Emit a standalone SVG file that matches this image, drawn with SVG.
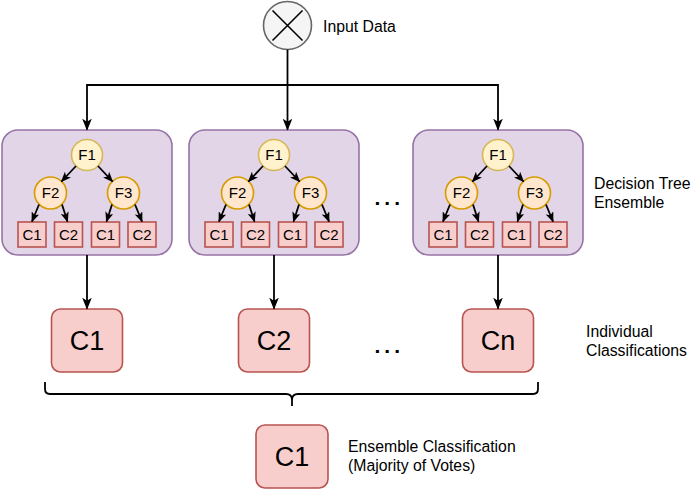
<svg xmlns="http://www.w3.org/2000/svg" width="692" height="491" viewBox="0 0 692 491">
<style>
text{font-family:"Liberation Sans",Arial,Helvetica,sans-serif;fill:#000}
.lbl{font-size:15.8px}
.ens{fill:#e1d5e7;stroke:#9673a6;stroke-width:1.6}
.f1{fill:#fff2cc;stroke:#d6b656;stroke-width:1.6}
.f23{fill:#ffe6cc;stroke:#d79b00;stroke-width:1.6}
.leaf{fill:#f8cecc;stroke:#b85450;stroke-width:1.6}
.cls{fill:#f8cecc;stroke:#b85450;stroke-width:1.6}
.sm{font-size:15px;text-anchor:middle}
.big{font-size:27px;text-anchor:middle}
.dots{font-size:21px;font-weight:bold;letter-spacing:4px}
.ln{fill:none;stroke:#000;stroke-width:1.8}
.ar{fill:none;stroke:#000;stroke-width:1.8;marker-end:url(#arr)}
.art{fill:none;stroke:#000;stroke-width:1.8;marker-end:url(#arrs)}
</style>
<defs>
<marker id="arr" viewBox="0 0 10 8" markerWidth="12" markerHeight="9.6" refX="9" refY="4" orient="auto" markerUnits="userSpaceOnUse">
<path d="M0,0 L10,4 L0,8 L2.5,4 Z" fill="#000"/>
</marker>
<marker id="arrs" viewBox="0 0 10 8" markerWidth="10.5" markerHeight="8.4" refX="9" refY="4" orient="auto" markerUnits="userSpaceOnUse">
<path d="M0,0 L10,4 L0,8 L2.5,4 Z" fill="#000"/>
</marker>
<g id="tree">
<circle class="f1" cx="0" cy="155" r="15.5"/>
<text class="sm" x="0" y="160.3">F1</text>
<circle class="f23" cx="-36.5" cy="193" r="16"/>
<text class="sm" x="-36.5" y="198.3">F2</text>
<circle class="f23" cx="36.5" cy="193" r="16"/>
<text class="sm" x="36.5" y="198.3">F3</text>
<rect class="leaf" x="-69" y="222" width="28" height="25"/>
<text class="sm" x="-55" y="240">C1</text>
<rect class="leaf" x="-32.5" y="222" width="28" height="25"/>
<text class="sm" x="-18.5" y="240">C2</text>
<rect class="leaf" x="4.5" y="222" width="28" height="25"/>
<text class="sm" x="18.5" y="240">C1</text>
<rect class="leaf" x="41" y="222" width="28" height="25"/>
<text class="sm" x="55" y="240">C2</text>
<path class="art" d="M-11,166 L-25.5,181.5"/>
<path class="art" d="M11,166 L25.5,181.5"/>
<path class="art" d="M-48,204.5 L-55,221.5"/>
<path class="art" d="M-25,204.5 L-19.5,221.5"/>
<path class="art" d="M25,204.5 L19.5,221.5"/>
<path class="art" d="M48,204.5 L55,221.5"/>
</g>
</defs>

<g id="input">
<circle cx="287.5" cy="25.5" r="24" fill="#f5f5f5" stroke="#666666" stroke-width="1.6"/>
<path d="M272.5,10.5 L302.5,40.5 M302.5,10.5 L272.5,40.5" stroke="#000" stroke-width="1.6"/>
<text class="lbl" x="323" y="32">Input Data</text>
</g>

<g id="tree1">
<rect class="ens" x="2" y="130" width="170" height="125" rx="16"/>
<use href="#tree" x="87"/>
</g>
<g id="tree2">
<rect class="ens" x="189" y="130" width="170" height="125" rx="16"/>
<use href="#tree" x="274"/>
</g>
<g id="tree3">
<rect class="ens" x="413" y="130" width="170" height="125" rx="16"/>
<use href="#tree" x="498"/>
</g>

<g id="label-ensemble">
<text class="lbl" x="594" y="189">Decision Tree</text>
<text class="lbl" x="594" y="208">Ensemble</text>
</g>

<g id="dots1"><text class="dots" x="374.5" y="205">...</text></g>
<g id="dots2"><text class="dots" x="374.5" y="353">...</text></g>

<g id="class1">
<rect class="cls" x="51.5" y="309" width="71" height="63" rx="9"/>
<text class="big" x="87" y="350">C1</text>
</g>
<g id="class2">
<rect class="cls" x="238.5" y="309" width="71" height="63" rx="9"/>
<text class="big" x="274" y="350">C2</text>
</g>
<g id="classn">
<rect class="cls" x="462.5" y="309" width="71" height="63" rx="9"/>
<text class="big" x="498" y="350">Cn</text>
</g>

<g id="label-individual">
<text class="lbl" x="586" y="337">Individual</text>
<text class="lbl" x="586" y="356">Classifications</text>
</g>

<g id="final">
<rect class="cls" x="256" y="425" width="72" height="63" rx="9"/>
<text class="big" x="292" y="466">C1</text>
</g>
<g id="label-final">
<text class="lbl" x="348" y="452">Ensemble Classification</text>
<text class="lbl" x="348" y="471">(Majority of Votes)</text>
</g>

<g id="connectors">
<path class="ar" d="M287.5,49.5 L287.5,129.5"/>
<path class="ar" d="M287.5,85 L87,85 L87,129.5"/>
<path class="ar" d="M287.5,85 L498,85 L498,129.5"/>
<path class="ar" d="M87,255 L87,308.5"/>
<path class="ar" d="M274,255 L274,308.5"/>
<path class="ar" d="M498,255 L498,308.5"/>
<path class="ln" d="M45,382 L45,389 Q45,394 50,394 L286,394 Q292,394 292,400 L292,406 M292,406 L292,400 Q292,394 298,394 L533,394 Q538,394 538,389 L538,382"/>
</g>
</svg>
